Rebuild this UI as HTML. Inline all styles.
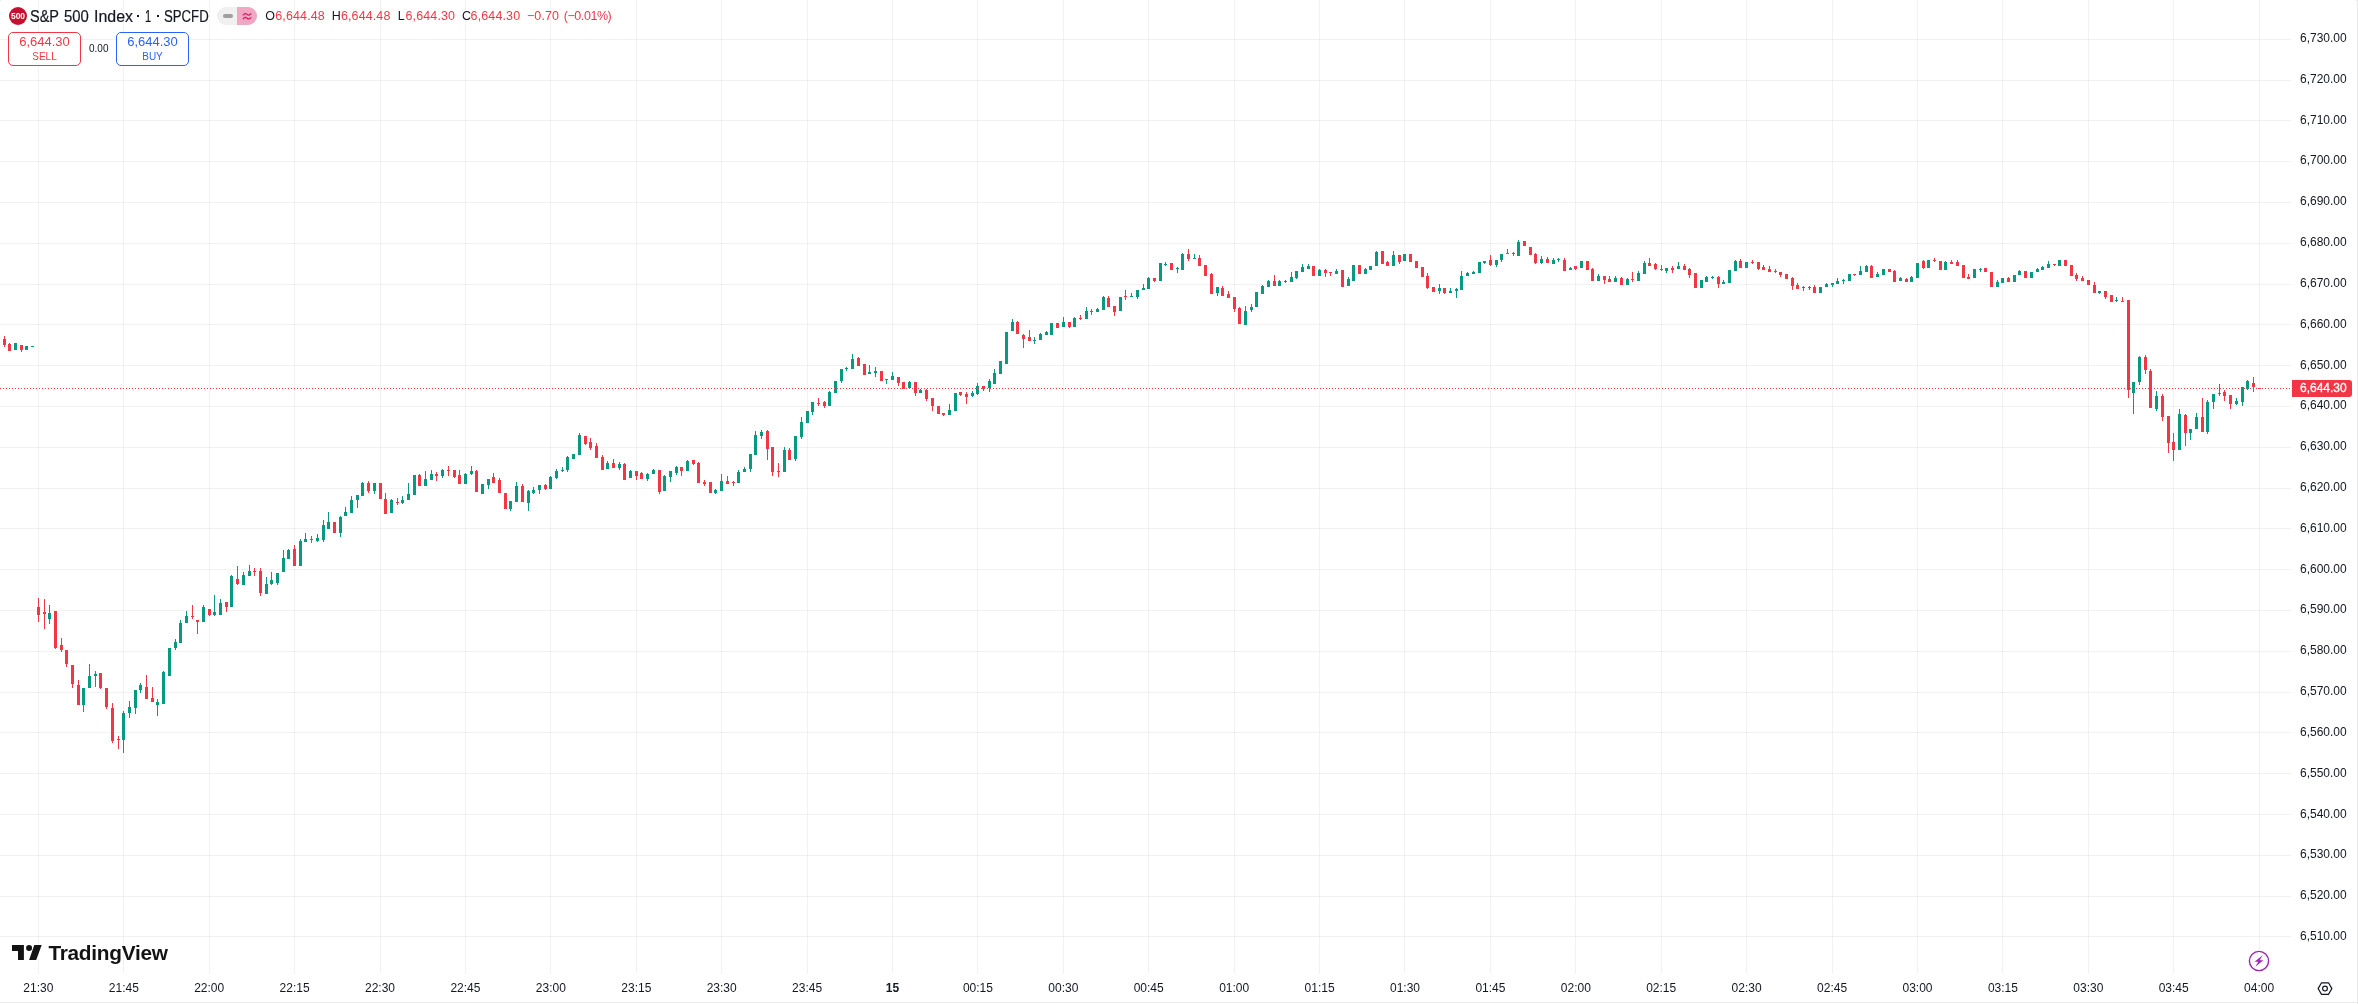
<!DOCTYPE html>
<html><head><meta charset="utf-8"><title>S&amp;P 500 Index</title>
<style>
html,body{margin:0;padding:0;background:#fff;}
body{width:2358px;height:1004px;overflow:hidden;position:relative;font-family:"Liberation Sans",sans-serif;color:#131722;}
.edge-r{position:absolute;left:2357px;top:0;width:1px;height:1004px;background:#EAEAEA;}
.edge-b{position:absolute;left:0;top:1002px;width:2357px;height:1px;background:#EBEBEB;}
.cnr{position:absolute;top:0;width:1px;height:1px;background:#E6E6E6;}
.pane{position:absolute;left:0;top:0;}
.pl{position:absolute;left:2300px;width:60px;height:16px;line-height:16px;font-size:12px;white-space:nowrap;}
.tl{position:absolute;top:980px;width:60px;height:16px;line-height:16px;text-align:center;font-size:12px;white-space:nowrap;}
.tl.b{font-weight:bold;}
.cur{position:absolute;left:2292px;top:380px;width:60px;height:17px;background:#F23645;border-radius:0 3px 3px 0;-webkit-text-stroke:0.3px #fff;color:#fff;font-size:12px;line-height:17px;}
.cur span{position:absolute;left:8px;top:0;}
.hdr{position:absolute;left:0;top:0;height:32px;white-space:nowrap;}
.logo500{position:absolute;left:9px;top:7px;width:18px;height:18px;border-radius:50%;background:#C8102E;color:#fff;font-weight:bold;font-size:8.5px;line-height:18px;text-align:center;letter-spacing:0;}
.title{position:absolute;left:0;top:7.4px;font-size:16px;line-height:20px;white-space:nowrap;}
.title span{position:absolute;top:0;transform-origin:0 0;-webkit-text-stroke:0.2px #131722;}
.title em{position:absolute;top:8.1px;width:2px;height:2px;background:#131722;}
.pill{position:absolute;left:217px;top:7px;width:40px;height:18px;border-radius:9px;overflow:hidden;background:#F0F0F0;}
.pill .r{position:absolute;left:20px;top:0;width:20px;height:18px;background:#F0A7C3;}
.pill .dash{position:absolute;left:6px;top:7px;width:10px;height:4px;border-radius:2px;background:#9E9E9E;}
.ohlc{position:absolute;left:0;top:8px;font-size:12.5px;line-height:16px;letter-spacing:0.12px;white-space:nowrap;}
.ohlc i,.ohlc b{position:absolute;top:0;font-style:normal;font-weight:normal;}
.ohlc i{color:#131722;}
.ohlc b{color:#F23645;}
.btn{position:absolute;top:32px;width:71px;height:32px;border:1px solid #F23645;border-radius:5px;text-align:center;color:#F23645;background:#fff;}
.btn.buy{left:116px;border-color:#2962FF;color:#2962FF;}
.btn.sell{left:8px;}
.btn .p{font-size:13px;line-height:14px;margin-top:2px;}
.btn .t{font-size:10px;line-height:12px;margin-top:2px;}
.spread{position:absolute;left:89px;top:43px;font-size:10px;line-height:12px;}
.tv{position:absolute;left:12px;top:945px;}
.tvt{position:absolute;left:48.4px;top:940.7px;font-size:20.8px;font-weight:bold;line-height:24px;letter-spacing:-0.25px;color:#131313;white-space:nowrap;}
#root{position:absolute;left:0;top:0;width:2358px;height:1004px;will-change:transform;}
</style></head><body><div id="root">
<svg class="pane" width="2291" height="974" viewBox="0 0 2291 974" shape-rendering="crispEdges"><rect x="38" y="0" width="1" height="974" fill="rgba(20,20,25,0.055)"/><rect x="123" y="0" width="1" height="974" fill="rgba(20,20,25,0.055)"/><rect x="209" y="0" width="1" height="974" fill="rgba(20,20,25,0.055)"/><rect x="294" y="0" width="1" height="974" fill="rgba(20,20,25,0.055)"/><rect x="380" y="0" width="1" height="974" fill="rgba(20,20,25,0.055)"/><rect x="465" y="0" width="1" height="974" fill="rgba(20,20,25,0.055)"/><rect x="550" y="0" width="1" height="974" fill="rgba(20,20,25,0.055)"/><rect x="636" y="0" width="1" height="974" fill="rgba(20,20,25,0.055)"/><rect x="721" y="0" width="1" height="974" fill="rgba(20,20,25,0.055)"/><rect x="807" y="0" width="1" height="974" fill="rgba(20,20,25,0.055)"/><rect x="892" y="0" width="1" height="974" fill="rgba(20,20,25,0.055)"/><rect x="977" y="0" width="1" height="974" fill="rgba(20,20,25,0.055)"/><rect x="1063" y="0" width="1" height="974" fill="rgba(20,20,25,0.055)"/><rect x="1148" y="0" width="1" height="974" fill="rgba(20,20,25,0.055)"/><rect x="1234" y="0" width="1" height="974" fill="rgba(20,20,25,0.055)"/><rect x="1319" y="0" width="1" height="974" fill="rgba(20,20,25,0.055)"/><rect x="1404" y="0" width="1" height="974" fill="rgba(20,20,25,0.055)"/><rect x="1490" y="0" width="1" height="974" fill="rgba(20,20,25,0.055)"/><rect x="1575" y="0" width="1" height="974" fill="rgba(20,20,25,0.055)"/><rect x="1661" y="0" width="1" height="974" fill="rgba(20,20,25,0.055)"/><rect x="1746" y="0" width="1" height="974" fill="rgba(20,20,25,0.055)"/><rect x="1832" y="0" width="1" height="974" fill="rgba(20,20,25,0.055)"/><rect x="1917" y="0" width="1" height="974" fill="rgba(20,20,25,0.055)"/><rect x="2002" y="0" width="1" height="974" fill="rgba(20,20,25,0.055)"/><rect x="2088" y="0" width="1" height="974" fill="rgba(20,20,25,0.055)"/><rect x="2173" y="0" width="1" height="974" fill="rgba(20,20,25,0.055)"/><rect x="2259" y="0" width="1" height="974" fill="rgba(20,20,25,0.055)"/><rect x="0" y="39" width="2291" height="1" fill="rgba(20,20,25,0.055)"/><rect x="0" y="80" width="2291" height="1" fill="rgba(20,20,25,0.055)"/><rect x="0" y="120" width="2291" height="1" fill="rgba(20,20,25,0.055)"/><rect x="0" y="161" width="2291" height="1" fill="rgba(20,20,25,0.055)"/><rect x="0" y="202" width="2291" height="1" fill="rgba(20,20,25,0.055)"/><rect x="0" y="243" width="2291" height="1" fill="rgba(20,20,25,0.055)"/><rect x="0" y="284" width="2291" height="1" fill="rgba(20,20,25,0.055)"/><rect x="0" y="324" width="2291" height="1" fill="rgba(20,20,25,0.055)"/><rect x="0" y="365" width="2291" height="1" fill="rgba(20,20,25,0.055)"/><rect x="0" y="406" width="2291" height="1" fill="rgba(20,20,25,0.055)"/><rect x="0" y="447" width="2291" height="1" fill="rgba(20,20,25,0.055)"/><rect x="0" y="488" width="2291" height="1" fill="rgba(20,20,25,0.055)"/><rect x="0" y="528" width="2291" height="1" fill="rgba(20,20,25,0.055)"/><rect x="0" y="569" width="2291" height="1" fill="rgba(20,20,25,0.055)"/><rect x="0" y="610" width="2291" height="1" fill="rgba(20,20,25,0.055)"/><rect x="0" y="651" width="2291" height="1" fill="rgba(20,20,25,0.055)"/><rect x="0" y="692" width="2291" height="1" fill="rgba(20,20,25,0.055)"/><rect x="0" y="732" width="2291" height="1" fill="rgba(20,20,25,0.055)"/><rect x="0" y="773" width="2291" height="1" fill="rgba(20,20,25,0.055)"/><rect x="0" y="814" width="2291" height="1" fill="rgba(20,20,25,0.055)"/><rect x="0" y="855" width="2291" height="1" fill="rgba(20,20,25,0.055)"/><rect x="0" y="896" width="2291" height="1" fill="rgba(20,20,25,0.055)"/><rect x="0" y="936" width="2291" height="1" fill="rgba(20,20,25,0.055)"/><path fill="#089981" d="M15 343h1v7h-1zM26 346h1v4h-1zM32 346h1v1h-1zM49 605h1v19h-1zM83 688h1v24h-1zM89 664h1v24h-1zM95 671h1v16h-1zM123 711h1v42h-1zM129 701h1v17h-1zM135 690h1v24h-1zM140 683h1v10h-1zM157 699h1v17h-1zM163 671h1v33h-1zM169 648h1v28h-1zM175 639h1v11h-1zM180 620h1v23h-1zM186 611h1v12h-1zM203 605h1v17h-1zM214 595h1v21h-1zM220 599h1v16h-1zM231 575h1v32h-1zM243 572h1v13h-1zM249 565h1v11h-1zM266 577h1v17h-1zM271 572h1v13h-1zM277 573h1v12h-1zM283 550h1v22h-1zM288 549h1v10h-1zM300 539h1v27h-1zM305 533h1v9h-1zM317 534h1v8h-1zM323 520h1v22h-1zM328 512h1v17h-1zM340 516h1v21h-1zM345 507h1v9h-1zM351 496h1v17h-1zM357 495h1v13h-1zM362 482h1v14h-1zM374 483h1v11h-1zM391 499h1v14h-1zM402 496h1v8h-1zM408 483h1v17h-1zM414 475h1v20h-1zM425 471h1v15h-1zM431 470h1v10h-1zM442 469h1v9h-1zM465 473h1v11h-1zM471 466h1v9h-1zM482 484h1v10h-1zM488 479h1v10h-1zM510 501h1v10h-1zM516 482h1v20h-1zM528 490h1v21h-1zM533 487h1v7h-1zM539 485h1v9h-1zM550 476h1v13h-1zM556 469h1v10h-1zM562 467h1v5h-1zM567 456h1v16h-1zM573 454h1v5h-1zM579 433h1v22h-1zM607 461h1v8h-1zM619 462h1v8h-1zM630 470h1v8h-1zM647 473h1v8h-1zM653 469h1v5h-1zM664 475h1v16h-1zM670 471h1v11h-1zM676 466h1v9h-1zM687 460h1v11h-1zM715 489h1v5h-1zM721 474h1v17h-1zM738 470h1v13h-1zM744 467h1v5h-1zM750 454h1v18h-1zM755 431h1v24h-1zM761 430h1v9h-1zM784 447h1v25h-1zM795 436h1v25h-1zM801 417h1v22h-1zM807 411h1v12h-1zM812 402h1v13h-1zM829 391h1v15h-1zM835 381h1v12h-1zM841 369h1v14h-1zM846 367h1v4h-1zM852 354h1v15h-1zM869 365h1v9h-1zM875 367h1v10h-1zM886 379h1v5h-1zM892 372h1v8h-1zM909 381h1v8h-1zM920 389h1v4h-1zM949 404h1v11h-1zM955 393h1v18h-1zM972 391h1v6h-1zM977 383h1v12h-1zM989 379h1v13h-1zM994 369h1v15h-1zM1000 361h1v13h-1zM1006 332h1v32h-1zM1012 319h1v12h-1zM1034 337h1v7h-1zM1040 333h1v7h-1zM1046 331h1v4h-1zM1051 323h1v12h-1zM1063 317h1v10h-1zM1074 317h1v10h-1zM1086 307h1v12h-1zM1097 308h1v4h-1zM1103 296h1v14h-1zM1120 297h1v14h-1zM1131 293h1v4h-1zM1137 290h1v9h-1zM1143 284h1v6h-1zM1148 277h1v12h-1zM1160 263h1v18h-1zM1165 262h1v4h-1zM1177 267h1v6h-1zM1182 253h1v17h-1zM1194 254h1v5h-1zM1217 287h1v9h-1zM1245 306h1v19h-1zM1251 304h1v8h-1zM1256 292h1v15h-1zM1262 285h1v9h-1zM1268 280h1v7h-1zM1279 280h1v6h-1zM1285 280h1v3h-1zM1291 272h1v10h-1zM1296 271h1v8h-1zM1302 264h1v8h-1zM1308 264h1v5h-1zM1319 269h1v7h-1zM1336 269h1v5h-1zM1348 277h1v9h-1zM1353 265h1v16h-1zM1365 268h1v6h-1zM1370 266h1v4h-1zM1376 251h1v15h-1zM1393 251h1v15h-1zM1404 254h1v7h-1zM1439 284h1v10h-1zM1450 288h1v5h-1zM1456 288h1v10h-1zM1461 271h1v19h-1zM1467 272h1v4h-1zM1473 271h1v3h-1zM1479 262h1v11h-1zM1484 261h1v3h-1zM1496 260h1v7h-1zM1501 254h1v8h-1zM1518 240h1v16h-1zM1541 256h1v8h-1zM1553 258h1v6h-1zM1558 258h1v4h-1zM1570 267h1v3h-1zM1581 261h1v7h-1zM1598 274h1v7h-1zM1615 276h1v6h-1zM1627 278h1v7h-1zM1638 271h1v10h-1zM1644 261h1v13h-1zM1666 268h1v5h-1zM1678 262h1v7h-1zM1701 280h1v8h-1zM1706 276h1v6h-1zM1712 276h1v3h-1zM1723 280h1v4h-1zM1729 270h1v13h-1zM1735 260h1v11h-1zM1746 262h1v6h-1zM1803 286h1v5h-1zM1809 286h1v4h-1zM1820 287h1v6h-1zM1826 283h1v4h-1zM1832 283h1v4h-1zM1837 278h1v6h-1zM1843 279h1v5h-1zM1849 274h1v7h-1zM1860 266h1v9h-1zM1866 265h1v7h-1zM1877 272h1v5h-1zM1883 269h1v6h-1zM1900 277h1v4h-1zM1911 276h1v6h-1zM1917 263h1v15h-1zM1928 260h1v8h-1zM1945 261h1v9h-1zM1974 269h1v9h-1zM1980 268h1v4h-1zM1997 280h1v7h-1zM2002 278h1v5h-1zM2014 275h1v7h-1zM2019 270h1v5h-1zM2031 272h1v6h-1zM2037 268h1v4h-1zM2042 266h1v4h-1zM2048 261h1v7h-1zM2059 260h1v6h-1zM2099 291h1v3h-1zM2116 297h1v5h-1zM2133 382h1v32h-1zM2139 356h1v29h-1zM2156 391h1v20h-1zM2179 409h1v41h-1zM2190 429h1v11h-1zM2196 413h1v16h-1zM2207 400h1v34h-1zM2213 394h1v15h-1zM2219 384h1v12h-1zM2236 398h1v7h-1zM2242 387h1v19h-1zM2247 380h1v10h-1zM14 343h3v7h-3zM25 346h3v4h-3zM31 346h3v1h-3zM48 613h3v6h-3zM82 688h3v17h-3zM88 676h3v12h-3zM94 674h3v2h-3zM122 713h3v27h-3zM128 707h3v6h-3zM134 690h3v18h-3zM139 685h3v5h-3zM156 702h3v3h-3zM162 672h3v32h-3zM168 648h3v28h-3zM174 642h3v6h-3zM179 623h3v20h-3zM185 616h3v7h-3zM202 607h3v15h-3zM213 612h3v3h-3zM219 603h3v12h-3zM230 576h3v31h-3zM242 575h3v10h-3zM248 571h3v5h-3zM265 584h3v10h-3zM270 580h3v4h-3zM276 573h3v10h-3zM282 558h3v14h-3zM287 550h3v9h-3zM299 541h3v25h-3zM304 539h3v3h-3zM316 538h3v3h-3zM322 525h3v15h-3zM327 522h3v7h-3zM339 517h3v16h-3zM344 512h3v4h-3zM350 500h3v13h-3zM356 495h3v5h-3zM361 483h3v13h-3zM373 483h3v8h-3zM390 500h3v13h-3zM401 500h3v3h-3zM407 494h3v6h-3zM413 475h3v20h-3zM424 479h3v7h-3zM430 474h3v6h-3zM441 470h3v6h-3zM464 474h3v10h-3zM470 471h3v3h-3zM481 484h3v10h-3zM487 479h3v6h-3zM509 501h3v8h-3zM515 486h3v16h-3zM527 491h3v12h-3zM532 490h3v3h-3zM538 485h3v5h-3zM549 477h3v12h-3zM555 471h3v7h-3zM561 470h3v1h-3zM566 457h3v13h-3zM572 454h3v5h-3zM578 435h3v20h-3zM606 463h3v6h-3zM618 464h3v4h-3zM629 471h3v7h-3zM646 474h3v5h-3zM652 470h3v4h-3zM663 476h3v15h-3zM669 471h3v6h-3zM675 467h3v6h-3zM686 461h3v10h-3zM714 490h3v3h-3zM720 481h3v10h-3zM737 472h3v11h-3zM743 469h3v3h-3zM749 454h3v15h-3zM754 435h3v20h-3zM760 432h3v4h-3zM783 450h3v22h-3zM794 436h3v23h-3zM800 422h3v15h-3zM806 411h3v12h-3zM811 402h3v10h-3zM828 392h3v14h-3zM834 381h3v12h-3zM840 369h3v12h-3zM845 368h3v1h-3zM851 359h3v10h-3zM868 372h3v2h-3zM874 371h3v2h-3zM885 379h3v1h-3zM891 376h3v4h-3zM908 382h3v6h-3zM919 390h3v3h-3zM948 410h3v5h-3zM954 393h3v18h-3zM971 393h3v3h-3zM976 386h3v8h-3zM988 381h3v7h-3zM993 373h3v11h-3zM999 361h3v13h-3zM1005 332h3v32h-3zM1011 322h3v9h-3zM1033 340h3v1h-3zM1039 334h3v6h-3zM1045 332h3v3h-3zM1050 323h3v12h-3zM1062 322h3v5h-3zM1073 318h3v9h-3zM1085 311h3v8h-3zM1096 309h3v3h-3zM1102 297h3v13h-3zM1119 297h3v14h-3zM1130 296h3v1h-3zM1136 290h3v7h-3zM1142 288h3v2h-3zM1147 278h3v11h-3zM1159 263h3v18h-3zM1164 264h3v1h-3zM1176 268h3v1h-3zM1181 254h3v16h-3zM1193 258h3v1h-3zM1216 287h3v6h-3zM1244 311h3v14h-3zM1250 307h3v3h-3zM1255 292h3v15h-3zM1261 286h3v8h-3zM1267 281h3v6h-3zM1278 281h3v5h-3zM1284 281h3v1h-3zM1290 277h3v5h-3zM1295 271h3v7h-3zM1301 267h3v5h-3zM1307 266h3v3h-3zM1318 270h3v6h-3zM1335 271h3v3h-3zM1347 279h3v7h-3zM1352 265h3v16h-3zM1364 269h3v5h-3zM1369 266h3v4h-3zM1375 252h3v14h-3zM1392 255h3v11h-3zM1403 254h3v7h-3zM1438 288h3v3h-3zM1449 291h3v2h-3zM1455 289h3v2h-3zM1460 276h3v14h-3zM1466 273h3v3h-3zM1472 272h3v2h-3zM1478 262h3v11h-3zM1483 261h3v2h-3zM1495 260h3v5h-3zM1500 254h3v6h-3zM1517 242h3v14h-3zM1540 259h3v4h-3zM1552 260h3v4h-3zM1557 259h3v1h-3zM1569 268h3v2h-3zM1580 261h3v7h-3zM1597 276h3v5h-3zM1614 278h3v4h-3zM1626 279h3v6h-3zM1637 273h3v8h-3zM1643 263h3v11h-3zM1665 268h3v3h-3zM1677 266h3v3h-3zM1700 280h3v8h-3zM1705 277h3v5h-3zM1711 277h3v1h-3zM1722 282h3v2h-3zM1728 270h3v13h-3zM1734 261h3v10h-3zM1745 262h3v6h-3zM1802 287h3v1h-3zM1808 287h3v1h-3zM1819 287h3v6h-3zM1825 284h3v3h-3zM1831 283h3v2h-3zM1836 281h3v3h-3zM1842 280h3v1h-3zM1848 274h3v7h-3zM1859 271h3v4h-3zM1865 266h3v6h-3zM1876 274h3v3h-3zM1882 269h3v6h-3zM1899 278h3v3h-3zM1910 277h3v5h-3zM1916 263h3v15h-3zM1927 260h3v8h-3zM1944 262h3v8h-3zM1973 269h3v9h-3zM1979 269h3v1h-3zM1996 282h3v5h-3zM2001 278h3v5h-3zM2013 275h3v7h-3zM2018 271h3v4h-3zM2030 272h3v6h-3zM2036 269h3v3h-3zM2041 267h3v3h-3zM2047 264h3v4h-3zM2058 260h3v6h-3zM2098 291h3v2h-3zM2115 300h3v1h-3zM2132 382h3v11h-3zM2138 357h3v25h-3zM2155 396h3v13h-3zM2178 414h3v36h-3zM2189 429h3v4h-3zM2195 417h3v12h-3zM2206 402h3v30h-3zM2212 394h3v8h-3zM2218 393h3v1h-3zM2235 401h3v3h-3zM2241 387h3v15h-3zM2246 381h3v8h-3z"/><path fill="#F23645" d="M4 336h1v11h-1zM9 343h1v8h-1zM21 345h1v7h-1zM38 598h1v24h-1zM44 599h1v30h-1zM55 611h1v38h-1zM61 638h1v14h-1zM66 650h1v17h-1zM72 665h1v23h-1zM78 680h1v25h-1zM100 673h1v16h-1zM106 688h1v21h-1zM112 703h1v40h-1zM118 736h1v13h-1zM146 675h1v24h-1zM152 687h1v15h-1zM192 605h1v14h-1zM197 620h1v14h-1zM209 609h1v7h-1zM226 602h1v10h-1zM237 566h1v19h-1zM254 568h1v8h-1zM260 568h1v28h-1zM294 545h1v21h-1zM311 536h1v7h-1zM334 522h1v11h-1zM368 481h1v12h-1zM380 483h1v16h-1zM385 493h1v21h-1zM397 498h1v7h-1zM419 474h1v12h-1zM436 472h1v9h-1zM448 466h1v10h-1zM454 470h1v8h-1zM459 470h1v14h-1zM476 470h1v22h-1zM493 473h1v10h-1zM499 478h1v15h-1zM505 493h1v16h-1zM522 484h1v18h-1zM545 484h1v6h-1zM585 436h1v9h-1zM590 438h1v12h-1zM596 443h1v15h-1zM602 455h1v15h-1zM613 459h1v9h-1zM624 463h1v17h-1zM636 471h1v9h-1zM641 472h1v7h-1zM659 470h1v24h-1zM681 467h1v9h-1zM693 460h1v5h-1zM698 462h1v21h-1zM704 480h1v6h-1zM710 482h1v11h-1zM727 476h1v8h-1zM733 481h1v5h-1zM767 430h1v30h-1zM772 447h1v29h-1zM778 463h1v14h-1zM789 448h1v12h-1zM818 398h1v8h-1zM824 401h1v7h-1zM858 357h1v9h-1zM864 364h1v11h-1zM881 371h1v10h-1zM898 377h1v9h-1zM903 382h1v7h-1zM915 382h1v14h-1zM926 389h1v12h-1zM932 398h1v13h-1zM938 406h1v8h-1zM943 413h1v3h-1zM960 392h1v4h-1zM966 392h1v12h-1zM983 386h1v5h-1zM1017 321h1v13h-1zM1023 334h1v14h-1zM1029 330h1v11h-1zM1057 323h1v5h-1zM1069 322h1v6h-1zM1080 315h1v5h-1zM1091 309h1v6h-1zM1108 296h1v11h-1zM1114 306h1v10h-1zM1125 290h1v10h-1zM1154 278h1v4h-1zM1171 263h1v7h-1zM1188 249h1v12h-1zM1199 255h1v11h-1zM1205 265h1v11h-1zM1211 273h1v21h-1zM1222 286h1v10h-1zM1228 291h1v7h-1zM1234 297h1v15h-1zM1239 307h1v17h-1zM1274 275h1v11h-1zM1313 266h1v10h-1zM1325 269h1v8h-1zM1330 272h1v4h-1zM1342 270h1v17h-1zM1359 265h1v9h-1zM1382 251h1v13h-1zM1387 261h1v5h-1zM1399 255h1v9h-1zM1410 254h1v8h-1zM1416 261h1v7h-1zM1422 267h1v10h-1zM1427 273h1v16h-1zM1433 287h1v5h-1zM1444 288h1v6h-1zM1490 255h1v11h-1zM1507 249h1v5h-1zM1513 252h1v4h-1zM1524 241h1v5h-1zM1530 247h1v8h-1zM1535 253h1v11h-1zM1547 257h1v6h-1zM1564 258h1v13h-1zM1575 266h1v4h-1zM1587 261h1v9h-1zM1592 268h1v13h-1zM1604 276h1v8h-1zM1609 276h1v6h-1zM1621 277h1v8h-1zM1632 272h1v10h-1zM1649 258h1v8h-1zM1655 263h1v7h-1zM1661 265h1v6h-1zM1672 266h1v7h-1zM1684 264h1v6h-1zM1689 268h1v10h-1zM1695 273h1v15h-1zM1718 276h1v12h-1zM1740 259h1v9h-1zM1752 260h1v4h-1zM1758 262h1v8h-1zM1763 265h1v5h-1zM1769 266h1v6h-1zM1775 269h1v4h-1zM1780 272h1v5h-1zM1786 274h1v5h-1zM1792 277h1v13h-1zM1797 283h1v6h-1zM1814 285h1v8h-1zM1854 274h1v2h-1zM1871 265h1v13h-1zM1889 269h1v3h-1zM1894 270h1v12h-1zM1906 278h1v4h-1zM1923 260h1v9h-1zM1934 258h1v4h-1zM1940 261h1v9h-1zM1951 260h1v4h-1zM1957 260h1v6h-1zM1963 265h1v13h-1zM1968 274h1v5h-1zM1985 268h1v4h-1zM1991 272h1v15h-1zM2008 277h1v5h-1zM2025 271h1v7h-1zM2054 264h1v2h-1zM2065 260h1v6h-1zM2071 265h1v11h-1zM2076 273h1v8h-1zM2082 276h1v5h-1zM2088 280h1v5h-1zM2094 282h1v11h-1zM2105 291h1v8h-1zM2111 295h1v7h-1zM2122 297h1v5h-1zM2128 300h1v98h-1zM2145 355h1v19h-1zM2150 369h1v39h-1zM2162 394h1v27h-1zM2168 416h1v37h-1zM2173 433h1v28h-1zM2185 414h1v32h-1zM2202 398h1v34h-1zM2224 390h1v11h-1zM2230 395h1v14h-1zM2253 377h1v15h-1zM2259 388h1v1h-1zM3 339h3v6h-3zM8 344h3v7h-3zM20 345h3v5h-3zM37 607h3v8h-3zM43 612h3v2h-3zM54 611h3v37h-3zM60 645h3v5h-3zM65 650h3v14h-3zM71 665h3v19h-3zM77 685h3v20h-3zM99 673h3v15h-3zM105 688h3v19h-3zM111 708h3v33h-3zM117 739h3v1h-3zM145 687h3v12h-3zM151 698h3v4h-3zM191 616h3v1h-3zM196 620h3v2h-3zM208 609h3v6h-3zM225 602h3v5h-3zM236 579h3v5h-3zM253 571h3v1h-3zM259 571h3v22h-3zM293 549h3v17h-3zM310 539h3v1h-3zM333 522h3v11h-3zM367 483h3v8h-3zM379 483h3v16h-3zM384 499h3v15h-3zM396 502h3v1h-3zM418 475h3v11h-3zM435 474h3v2h-3zM447 470h3v1h-3zM453 470h3v7h-3zM458 475h3v9h-3zM475 471h3v21h-3zM492 477h3v6h-3zM498 480h3v13h-3zM504 493h3v16h-3zM521 486h3v16h-3zM544 485h3v4h-3zM584 436h3v8h-3zM589 442h3v6h-3zM595 446h3v12h-3zM601 457h3v13h-3zM612 463h3v5h-3zM623 464h3v16h-3zM635 471h3v5h-3zM640 473h3v6h-3zM658 470h3v22h-3zM680 467h3v4h-3zM692 460h3v4h-3zM697 463h3v20h-3zM703 482h3v2h-3zM709 482h3v11h-3zM726 481h3v3h-3zM732 482h3v1h-3zM766 431h3v18h-3zM771 447h3v25h-3zM777 471h3v1h-3zM788 450h3v10h-3zM817 403h3v1h-3zM823 402h3v4h-3zM857 358h3v8h-3zM863 364h3v11h-3zM880 371h3v10h-3zM897 377h3v6h-3zM902 382h3v7h-3zM914 382h3v11h-3zM925 390h3v9h-3zM931 398h3v8h-3zM937 406h3v8h-3zM942 413h3v2h-3zM959 392h3v3h-3zM965 394h3v3h-3zM982 386h3v3h-3zM1016 322h3v12h-3zM1022 335h3v4h-3zM1028 337h3v4h-3zM1056 323h3v5h-3zM1068 322h3v5h-3zM1079 318h3v1h-3zM1090 311h3v1h-3zM1107 298h3v9h-3zM1113 306h3v6h-3zM1124 296h3v1h-3zM1153 278h3v3h-3zM1170 263h3v7h-3zM1187 254h3v5h-3zM1198 258h3v8h-3zM1204 265h3v11h-3zM1210 274h3v20h-3zM1221 288h3v8h-3zM1227 294h3v4h-3zM1233 297h3v12h-3zM1238 308h3v16h-3zM1273 281h3v5h-3zM1312 266h3v10h-3zM1324 270h3v3h-3zM1329 272h3v1h-3zM1341 270h3v17h-3zM1358 265h3v9h-3zM1381 251h3v13h-3zM1386 262h3v4h-3zM1398 255h3v7h-3zM1409 254h3v8h-3zM1415 261h3v7h-3zM1421 267h3v10h-3zM1426 276h3v12h-3zM1432 287h3v5h-3zM1443 288h3v5h-3zM1489 260h3v5h-3zM1506 253h3v1h-3zM1512 253h3v1h-3zM1523 241h3v5h-3zM1529 247h3v8h-3zM1534 254h3v9h-3zM1546 259h3v4h-3zM1563 260h3v11h-3zM1574 266h3v3h-3zM1586 261h3v9h-3zM1591 269h3v12h-3zM1603 276h3v4h-3zM1608 279h3v3h-3zM1620 278h3v7h-3zM1631 279h3v1h-3zM1648 263h3v3h-3zM1654 264h3v5h-3zM1660 269h3v1h-3zM1671 268h3v2h-3zM1683 266h3v4h-3zM1688 269h3v6h-3zM1694 273h3v15h-3zM1717 277h3v7h-3zM1739 261h3v7h-3zM1751 262h3v1h-3zM1757 262h3v7h-3zM1762 267h3v3h-3zM1768 269h3v3h-3zM1774 271h3v1h-3zM1779 272h3v3h-3zM1785 274h3v5h-3zM1791 278h3v8h-3zM1796 285h3v4h-3zM1813 287h3v6h-3zM1853 274h3v1h-3zM1870 266h3v12h-3zM1888 269h3v3h-3zM1893 271h3v11h-3zM1905 279h3v3h-3zM1922 261h3v7h-3zM1933 260h3v1h-3zM1939 261h3v9h-3zM1950 262h3v2h-3zM1956 262h3v4h-3zM1962 265h3v13h-3zM1967 277h3v2h-3zM1984 268h3v4h-3zM1990 272h3v15h-3zM2007 278h3v4h-3zM2024 271h3v7h-3zM2053 264h3v1h-3zM2064 260h3v6h-3zM2070 265h3v11h-3zM2075 275h3v4h-3zM2081 278h3v3h-3zM2087 280h3v5h-3zM2093 285h3v8h-3zM2104 291h3v6h-3zM2110 295h3v7h-3zM2121 301h3v1h-3zM2127 300h3v90h-3zM2144 357h3v13h-3zM2149 371h3v37h-3zM2161 396h3v21h-3zM2167 416h3v27h-3zM2172 442h3v8h-3zM2184 415h3v18h-3zM2201 417h3v15h-3zM2223 392h3v4h-3zM2229 395h3v9h-3zM2252 383h3v4h-3zM2258 388h3v1h-3z"/><line x1="0" x2="2291" y1="388.5" y2="388.5" stroke="#F23645" stroke-width="1" stroke-dasharray="1 2"/></svg>
<div class="cnr" style="left:0"></div><div class="cnr" style="left:2356px"></div><div class="edge-r"></div><div class="edge-b"></div>
<div class="pl" style="top:29.94px">6,730.00</div><div class="pl" style="top:70.76px">6,720.00</div><div class="pl" style="top:111.59px">6,710.00</div><div class="pl" style="top:152.41px">6,700.00</div><div class="pl" style="top:193.23px">6,690.00</div><div class="pl" style="top:234.06px">6,680.00</div><div class="pl" style="top:274.88px">6,670.00</div><div class="pl" style="top:315.70px">6,660.00</div><div class="pl" style="top:356.52px">6,650.00</div><div class="pl" style="top:397.35px">6,640.00</div><div class="pl" style="top:438.17px">6,630.00</div><div class="pl" style="top:478.99px">6,620.00</div><div class="pl" style="top:519.82px">6,610.00</div><div class="pl" style="top:560.64px">6,600.00</div><div class="pl" style="top:601.46px">6,590.00</div><div class="pl" style="top:642.29px">6,580.00</div><div class="pl" style="top:683.11px">6,570.00</div><div class="pl" style="top:723.93px">6,560.00</div><div class="pl" style="top:764.75px">6,550.00</div><div class="pl" style="top:805.58px">6,540.00</div><div class="pl" style="top:846.40px">6,530.00</div><div class="pl" style="top:887.22px">6,520.00</div><div class="pl" style="top:928.05px">6,510.00</div>
<div class="tl" style="left:8.3px">21:30</div><div class="tl" style="left:93.8px">21:45</div><div class="tl" style="left:179.2px">22:00</div><div class="tl" style="left:264.6px">22:15</div><div class="tl" style="left:350.0px">22:30</div><div class="tl" style="left:435.4px">22:45</div><div class="tl" style="left:520.8px">23:00</div><div class="tl" style="left:606.3px">23:15</div><div class="tl" style="left:691.7px">23:30</div><div class="tl" style="left:777.1px">23:45</div><div class="tl b" style="left:862.5px">15</div><div class="tl" style="left:947.9px">00:15</div><div class="tl" style="left:1033.3px">00:30</div><div class="tl" style="left:1118.7px">00:45</div><div class="tl" style="left:1204.2px">01:00</div><div class="tl" style="left:1289.6px">01:15</div><div class="tl" style="left:1375.0px">01:30</div><div class="tl" style="left:1460.4px">01:45</div><div class="tl" style="left:1545.8px">02:00</div><div class="tl" style="left:1631.2px">02:15</div><div class="tl" style="left:1716.6px">02:30</div><div class="tl" style="left:1802.1px">02:45</div><div class="tl" style="left:1887.5px">03:00</div><div class="tl" style="left:1972.9px">03:15</div><div class="tl" style="left:2058.3px">03:30</div><div class="tl" style="left:2143.7px">03:45</div><div class="tl" style="left:2229.1px">04:00</div>
<div class="cur"><span>6,644.30</span></div>
<div class="logo500">500</div>
<div class="title"><span style="left:30.33px;transform:scaleX(0.906)">S&amp;P</span><span style="left:63.51px;transform:scaleX(0.930)">500</span><span style="left:93.64px;transform:scaleX(0.995)">Index</span><em style="left:137.4px"></em><span style="left:144.76px;transform:scaleX(0.696)">1</span><em style="left:157.2px"></em><span style="left:164.32px;transform:scaleX(0.824)">SPCFD</span></div>
<div class="pill"><div class="dash"></div><div class="r"></div>
<svg style="position:absolute;left:24.6px;top:4.8px" width="10.2" height="8.5" viewBox="0 0 12 10"><path d="M1.5 3.5 C3 1.5 4.5 1.5 6 2.8 S9 4 10.5 2" fill="none" stroke="#E0115F" stroke-width="1.4" stroke-linecap="round"/><path d="M1.5 8 C3 6 4.5 6 6 7.3 S9 8.5 10.5 6.5" fill="none" stroke="#E0115F" stroke-width="1.4" stroke-linecap="round"/></svg>
</div>
<div class="ohlc"><i style="left:265.2px">O</i><b style="left:275.3px">6,644.48</b><i style="left:331.7px">H</i><b style="left:340.9px">6,644.48</b><i style="left:397.7px">L</i><b style="left:405.5px">6,644.30</b><i style="left:462.0px">C</i><b style="left:470.6px">6,644.30</b><b style="left:526.9px">−0.70</b><b style="left:563.8px;letter-spacing:-0.45px">(−0.01%)</b></div>
<div class="btn sell"><div class="p">6,644.30</div><div class="t">SELL</div></div>
<div class="spread">0.00</div>
<div class="btn buy"><div class="p">6,644.30</div><div class="t">BUY</div></div>
<svg class="tv" width="29.7" height="15" viewBox="0 0 29.7 15"><path d="M0 0H11.9V15H6V6H0Z M22.3 0H29.7L24.2 15H17.1Z" fill="#131313"/><circle cx="17.1" cy="3" r="3" fill="#131313"/></svg>
<div class="tvt">TradingView</div>
<div style="position:absolute;left:2249px;top:950px;width:22px;height:22px;background:#fff"></div><svg style="position:absolute;left:2248.4px;top:950px" width="22" height="22" viewBox="0 0 22 22"><circle cx="11" cy="11" r="9.6" fill="none" stroke="#9C27B0" stroke-width="1.4"/><path d="M14.6 5.3 L6.6 11.7 H10.3 L7.4 16.7 L15.4 10.3 H11.7 Z" fill="#9C27B0"/></svg>
<svg style="position:absolute;left:2316.6px;top:981.9px" width="16" height="13.2" viewBox="0 0 16 13.2"><path d="M4.5 0.8 H11.5 L14.9 6.6 L11.5 12.4 H4.5 L1.1 6.6 Z" fill="none" stroke="#131722" stroke-width="1.2"/><circle cx="8" cy="6.6" r="2.4" fill="none" stroke="#131722" stroke-width="1.2"/></svg>
</div></body></html>
